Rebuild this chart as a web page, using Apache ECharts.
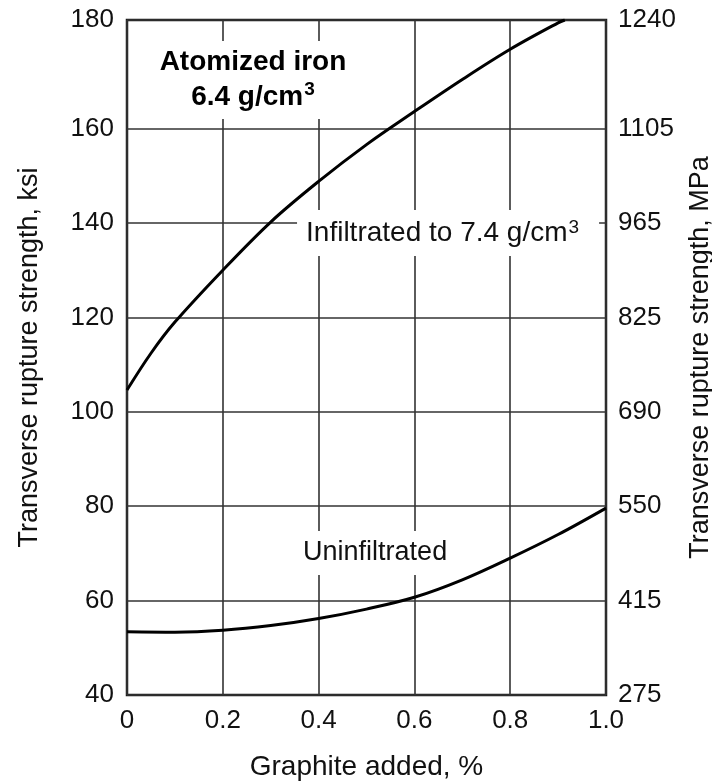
<!DOCTYPE html>
<html>
<head>
<meta charset="utf-8">
<script src="https://cdn.jsdelivr.net/npm/echarts@6/dist/echarts.min.js"></script>
<style>
html,body{margin:0;padding:0;background:#fff;}
#c{width:712px;height:782px;}
</style>
</head>
<body>
<div id="c"></div>
<script>
// Graphite added, %
const infiltratedX = [0, 0.05, 0.1, 0.2, 0.3, 0.4, 0.5, 0.6, 0.7, 0.8, 0.9, 0.914];
// Transverse rupture strength, ksi
const infiltratedY = [104.6, 112.4, 119.0, 130.0, 140.2, 148.8, 156.6, 163.6, 170.4, 176.8, 182.4, 183];
const uninfiltratedX = [0, 0.1, 0.2, 0.3, 0.4, 0.5, 0.6, 0.7, 0.8, 0.9, 1.0];
const uninfiltratedY = [53.4, 53.3, 53.7, 54.7, 56.2, 58.2, 60.7, 64.4, 69.0, 74.0, 79.6];
const ksiTicks = [40, 60, 80, 100, 120, 140, 160, 180];
const mpaTicks = ['275', '415', '550', '690', '825', '965', '1105', '1240'];
const xTicks = ['0', '0.2', '0.4', '0.6', '0.8', '1.0'];

const FONT = "'Liberation Sans', Arial, sans-serif";
const yTop = 183;

function ksiLabel(v) {
  if (v > 181) return String(ksiTicks[ksiTicks.length - 1]);
  if (Math.abs(v - 180) < 0.01) return '';
  return String(v);
}
function mpaLabel(v) {
  if (v > 181) return mpaTicks[mpaTicks.length - 1];
  if (Math.abs(v - 180) < 0.01) return '';
  const i = Math.round((v - 40) / 20);
  return mpaTicks[i] || '';
}
const gridColor = '#333';
const splitColors = ['#333','#333','#333','#333','#333','#333','#333','rgba(0,0,0,0)','#333'];

const chart = echarts.init(document.getElementById('c'), null, {renderer: 'canvas'});
chart.setOption({
  animation: false,
  backgroundColor: '#fff',
  grid: {left: 127, right: 106, top: 20, bottom: 87, containLabel: false, outerBoundsMode: 'none',
    show: true, borderColor: '#1a1a1a', borderWidth: 2.5, backgroundColor: 'transparent'},
  xAxis: {
    type: 'value', min: 0, max: 1, interval: 0.2,
    name: 'Graphite added, %', nameLocation: 'middle', nameGap: 58,
    nameTextStyle: {fontFamily: FONT, fontSize: 28, color: '#111'},
    axisLine: {show: false}, axisTick: {show: false},
    axisLabel: {fontFamily: FONT, fontSize: 26, color: '#111', margin: 13,
      formatter: v => xTicks[Math.round(v / 0.2)]},
    splitLine: {show: true, lineStyle: {color: gridColor, width: 1.6}}
  },
  yAxis: [{
    type: 'value', min: 40, max: yTop, interval: 20, position: 'left',
    name: 'Transverse rupture strength, ksi', nameLocation: 'middle', nameGap: 84,
    nameTextStyle: {fontFamily: FONT, fontSize: 27, color: '#111'},
    axisLine: {show: false}, axisTick: {show: false},
    axisLabel: {fontFamily: FONT, fontSize: 26, color: '#111', margin: 13, showMaxLabel: true, showMinLabel: true, formatter: ksiLabel},
    splitLine: {show: true, lineStyle: {color: splitColors, width: 1.6}}
  }, {
    type: 'value', min: 40, max: yTop, interval: 20, position: 'right',
    name: 'Transverse rupture strength, MPa', nameLocation: 'middle', nameGap: 74,
    nameRotate: 90,
    nameTextStyle: {fontFamily: FONT, fontSize: 27, color: '#111'},
    axisLine: {show: false}, axisTick: {show: false},
    axisLabel: {fontFamily: FONT, fontSize: 26, color: '#111', margin: 12, showMaxLabel: true, showMinLabel: true, formatter: mpaLabel},
    splitLine: {show: false}
  }],
  series: [{
    type: 'line', name: 'Infiltrated', smooth: 0.35, symbol: 'none',
    lineStyle: {color: '#000', width: 3},
    data: infiltratedX.map((x, i) => [x, infiltratedY[i]]),
    z: 3
  }, {
    type: 'line', name: 'Uninfiltrated', smooth: 0.35, symbol: 'none',
    lineStyle: {color: '#000', width: 3},
    data: uninfiltratedX.map((x, i) => [x, uninfiltratedY[i]]),
    z: 3
  }, {
    type: 'scatter', name: 'labels', symbolSize: 0, z: 2,
    data: [],
    markPoint: {
      symbol: 'circle', symbolSize: 0, silent: true,
      data: [
        {coord: [0.263, 170.3], label: {show: true, position: 'inside', align: 'center', verticalAlign: 'middle',
          backgroundColor: '#fff', padding: [4, 8, 4, 8],
          formatter: '{b|Atomized iron}\n{b|6.4 g/cm}{bs|3}',
          rich: {
            b: {fontFamily: FONT, fontSize: 28, fontWeight: 'bold', color: '#000', lineHeight: 35},
            bs: {fontFamily: FONT, fontSize: 19, fontWeight: 'bold', color: '#000', lineHeight: 35, verticalAlign: 'top', padding: [0, 0, 0, 1]}
          }}},
        {coord: [0.355, 137.9], label: {show: true, position: 'inside', align: 'left', verticalAlign: 'middle',
          backgroundColor: '#fff', padding: [8, 20, 8, 9],
          formatter: '{a|Infiltrated to 7.4 g/cm}{s|3}',
          rich: {
            a: {fontFamily: FONT, fontSize: 28, color: '#111', lineHeight: 30},
            s: {fontFamily: FONT, fontSize: 19, color: '#111', lineHeight: 30, verticalAlign: 'top', padding: [0, 0, 0, 1]}
          }}},
        {coord: [0.518, 70.1], label: {show: true, position: 'inside', align: 'center', verticalAlign: 'middle',
          backgroundColor: '#fff', padding: [8, 8, 8, 8],
          formatter: 'Uninfiltrated', fontFamily: FONT, fontSize: 27, color: '#111', lineHeight: 28}}
      ]
    }
  }]
});
</script>
</body>
</html>
